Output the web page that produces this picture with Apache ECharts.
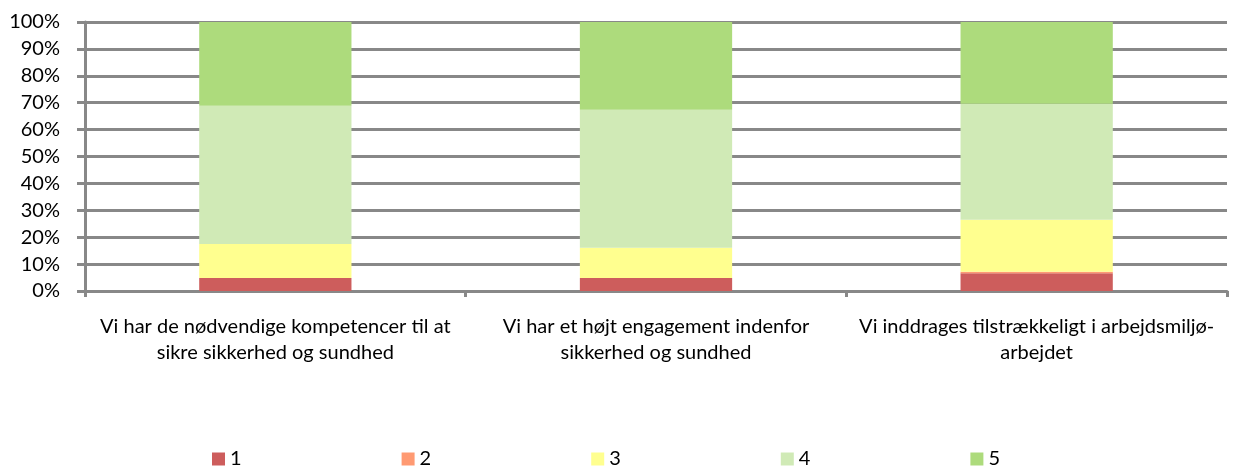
<!DOCTYPE html>
<html><head><meta charset="utf-8">
<script src="https://cdn.jsdelivr.net/npm/echarts@6/dist/echarts.min.js"></script>
<style>html,body{margin:0;padding:0;background:#fff}#c{width:1240px;height:467px}</style>
</head><body><div id="c"></div>
<script>
const categories = [
  "Vi har de nødvendige kompetencer til at\nsikre sikkerhed og sundhed",
  "Vi har et højt engagement indenfor\nsikkerhed og sundhed",
  "Vi inddrages tilstrækkeligt i arbejdsmiljø-\narbejdet"
];
const seriesNames = ["1", "2", "3", "4", "5"];
const s1 = [4.8, 4.8, 6.6];
const s2 = [0, 0, 0.6];
const s3 = [12.7, 11.3, 19.3];
const s4 = [51.4, 51.3, 43.1];
const s5 = [31.1, 32.6, 30.4];
const yTicks = [0, 10, 20, 30, 40, 50, 60, 70, 80, 90, 100];
const colors = ["#CD5D5C", "#FF9A72", "#FFFF8F", "#D0EAB6", "#ADDB7C"];

const font = "Lato, 'Open Sans', sans-serif";
const values = [s1, s2, s3, s4, s5];
const chart = echarts.init(document.getElementById('c'), null, {renderer: 'canvas'});
chart.setOption({
  animation: false,
  grid: {left: 85, right: 13, top: 22, bottom: 176, containLabel: false},
  legend: {
    data: seriesNames,
    left: 212, top: 449, padding: 0,
    itemWidth: 13, itemHeight: 13, itemGap: 160,
    icon: 'rect',
    textStyle: {fontFamily: font, fontSize: 20, color: '#000', padding: [0,0,0,0]}
  },
  xAxis: {
    type: 'category',
    data: categories,
    axisLine: {lineStyle: {color: '#888', width: 3}},
    axisTick: {show: true, length: 6, lineStyle: {color: '#888', width: 3}},
    axisLabel: {fontFamily: font, fontSize: 20, color: '#000', margin: 23, lineHeight: 26, interval: 0}
  },
  yAxis: {
    type: 'value', min: yTicks[0], max: yTicks[yTicks.length-1], interval: 10,
    axisLine: {show: true, lineStyle: {color: '#888', width: 3}},
    axisTick: {show: true, length: 8, lineStyle: {color: '#888', width: 3}},
    splitLine: {lineStyle: {color: '#888', width: 3}},
    axisLabel: {fontFamily: font, fontSize: 20, color: '#000', margin: 25, formatter: v => v + '%'}
  },
  series: seriesNames.map((n, i) => ({
    name: n, type: 'bar', stack: 'all', data: values[i],
    barCategoryGap: '60%',
    itemStyle: {color: colors[i]}
  }))
});
</script></body></html>
